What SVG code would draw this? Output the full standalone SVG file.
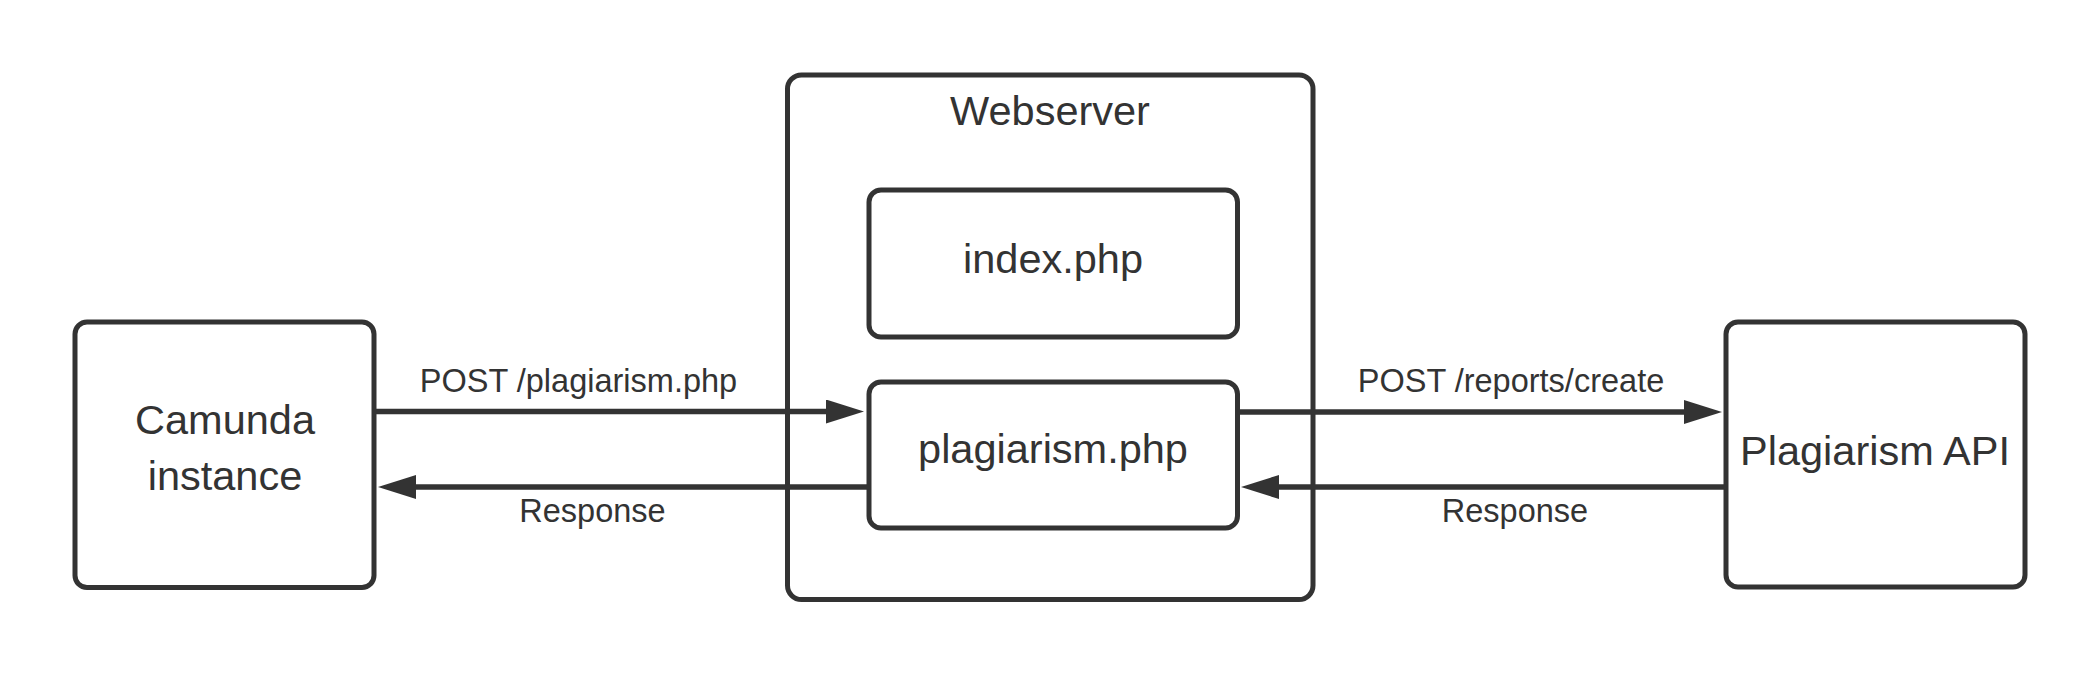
<svg xmlns="http://www.w3.org/2000/svg" width="2100" height="675" viewBox="0 0 2100 675">
  <style>
    .box { fill: #ffffff; stroke: #333333; stroke-width: 5; }
    .node { font-family: "Liberation Sans", Arial, sans-serif; font-size: 41.5px; fill: #333333; text-anchor: middle; }
    .lbl { font-family: "Liberation Sans", Arial, sans-serif; font-size: 32.5px; fill: #333333; text-anchor: middle; }
    .conn { fill: none; stroke: #333333; stroke-width: 5.5; marker-end: url(#arrow); }
  </style>
  <defs>
    <marker id="arrow" viewBox="0 0 38 24" refX="0" refY="12" markerWidth="38" markerHeight="24" markerUnits="userSpaceOnUse" orient="auto">
      <path d="M0,0 L38,12 L0,24 Z" fill="#333333"/>
    </marker>
  </defs>
  <rect width="2100" height="675" fill="#ffffff"/>

  <g id="webserver">
    <rect class="box" x="787.5" y="75" width="525.5" height="524.5" rx="14"/>
    <text class="node" x="1050" y="125">Webserver</text>
  </g>

  <g id="index-php">
    <rect class="box" x="869" y="190" width="368.5" height="147" rx="12"/>
    <text class="node" x="1053" y="272.5">index.php</text>
  </g>

  <g id="plagiarism-php">
    <rect class="box" x="869" y="382" width="368.5" height="146" rx="12"/>
    <text class="node" x="1053" y="463">plagiarism.php</text>
  </g>

  <g id="camunda">
    <rect class="box" x="75" y="322" width="299" height="265.5" rx="12"/>
    <text class="node" x="225" y="433.5">Camunda</text>
    <text class="node" x="225" y="489.5">instance</text>
  </g>

  <g id="plagiarism-api">
    <rect class="box" x="1726" y="322" width="299" height="265" rx="12"/>
    <text class="node" x="1875" y="465">Plagiarism API</text>
  </g>

  <g id="connectors">
    <path class="conn" d="M376,411.5 H826"/>
    <text class="lbl" x="578.5" y="391.5">POST /plagiarism.php</text>
    <path class="conn" d="M869,487 H416"/>
    <text class="lbl" x="592.5" y="521.5">Response</text>
    <path class="conn" d="M1237.5,412 H1684"/>
    <text class="lbl" x="1511" y="391.5">POST /reports/create</text>
    <path class="conn" d="M1726,487 H1279"/>
    <text class="lbl" x="1515" y="521.5">Response</text>
  </g>
</svg>
